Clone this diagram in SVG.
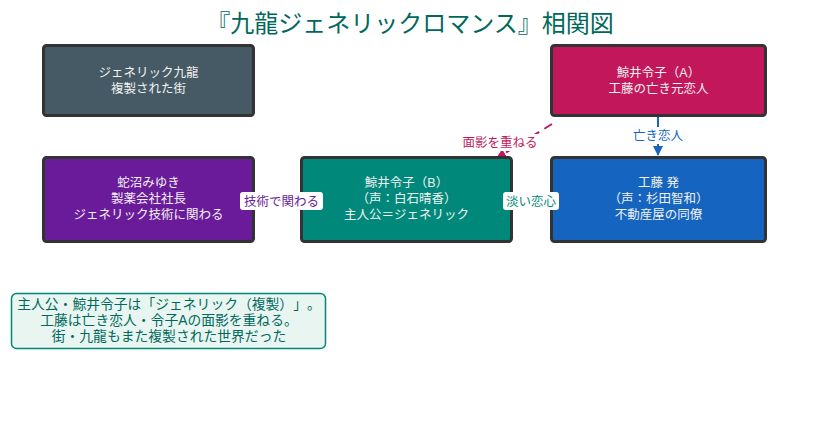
<svg xmlns="http://www.w3.org/2000/svg" width="813" height="434" viewBox="0 0 813 434">
<style>
text{font-family:"Liberation Sans","Noto Sans CJK JP",sans-serif;text-spacing-trim:space-all;}
.box{stroke:#333;stroke-width:3;}
.nt{fill:#f2f2f2;font-size:12.5px;text-anchor:middle;}
.lbl{font-size:12.5px;text-anchor:middle;}
.lblbg{fill:#fff;}
.note{font-size:13.8px;fill:#00695c;text-anchor:middle;}
</style>
<defs>
<marker id="arB" viewBox="0 0 10 10" refX="9" refY="5" markerWidth="5" markerHeight="5" orient="auto"><path d="M0,0L10,5L0,10z" fill="#1565c0"/></marker>
<marker id="arM" viewBox="0 0 10 10" refX="9" refY="5" markerWidth="5" markerHeight="5" orient="auto"><path d="M0,0L10,5L0,10z" fill="#c2185b"/></marker>
</defs>
<rect width="813" height="434" fill="#fff"/>
<text x="410" y="32" font-size="24" fill="#00695c" text-anchor="middle">『九龍ジェネリックロマンス』相関図</text>
<g id="connectors">
<line x1="552" y1="124" x2="497" y2="158" stroke="#c2185b" stroke-width="2" stroke-dasharray="9,6" marker-end="url(#arM)"/>
<line x1="658" y1="116" x2="658" y2="155" stroke="#1565c0" stroke-width="2" marker-end="url(#arB)"/>
<line x1="254" y1="200" x2="301" y2="200" stroke="#6a1b9a" stroke-width="2"/>
<line x1="512" y1="200" x2="551" y2="200" stroke="#00897b" stroke-width="2"/>
</g>
<g id="n-city"><rect class="box" x="43.5" y="45.5" width="210" height="70" rx="3" fill="#455a64"/>
<text class="nt" x="148.5" y="77">ジェネリック九龍</text><text class="nt" x="148.5" y="93">複製された街</text></g>
<g id="n-reikoA"><rect class="box" x="551.5" y="45.5" width="214" height="70" rx="3" fill="#c2185b"/>
<text class="nt" x="658.5" y="77">鯨井令子（A）</text><text class="nt" x="658.5" y="93">工藤の亡き元恋人</text></g>
<g id="n-hebi"><rect class="box" x="43.5" y="157.5" width="210" height="84" rx="3" fill="#6a1b9a"/>
<text class="nt" x="148.5" y="187">蛇沼みゆき</text><text class="nt" x="148.5" y="203">製薬会社社長</text><text class="nt" x="148.5" y="219">ジェネリック技術に関わる</text></g>
<g id="n-reikoB"><rect class="box" x="301.5" y="157.5" width="210" height="84" rx="3" fill="#00897b"/>
<text class="nt" x="406.5" y="187">鯨井令子（B）</text><text class="nt" x="406.5" y="203">（声：白石晴香）</text><text class="nt" x="406.5" y="219">主人公＝ジェネリック</text></g>
<g id="n-kudo"><rect class="box" x="551.5" y="157.5" width="214" height="84" rx="3" fill="#1565c0"/>
<text class="nt" x="658.5" y="187">工藤 発</text><text class="nt" x="658.5" y="203">（声：杉田智和）</text><text class="nt" x="658.5" y="219">不動産屋の同僚</text></g>
<g id="labels">
<rect class="lblbg" x="460" y="134" width="80" height="17" rx="2"/>
<text class="lbl" x="500" y="147" fill="#c2185b">面影を重ねる</text>
<rect class="lblbg" x="628" y="127" width="60" height="17" rx="2"/>
<text class="lbl" x="658" y="140" fill="#1565c0">亡き恋人</text>
<rect class="lblbg" x="240" y="192" width="83" height="18" rx="3"/>
<text class="lbl" x="281.5" y="205.5" fill="#6a1b9a">技術で関わる</text>
<rect class="lblbg" x="503" y="192" width="56" height="18" rx="3"/>
<text class="lbl" x="531" y="205.5" fill="#00897b">淡い恋心</text>
</g>
<g id="note"><rect x="11.5" y="293.5" width="314" height="55" rx="5" fill="#e8f5f1" stroke="#00897b" stroke-width="1.5"/>
<text class="note" x="169" y="309">主人公・鯨井令子は「ジェネリック（複製）」。</text>
<text class="note" x="169" y="325">工藤は亡き恋人・令子Aの面影を重ねる。</text>
<text class="note" x="169" y="341">街・九龍もまた複製された世界だった</text></g>
</svg>
